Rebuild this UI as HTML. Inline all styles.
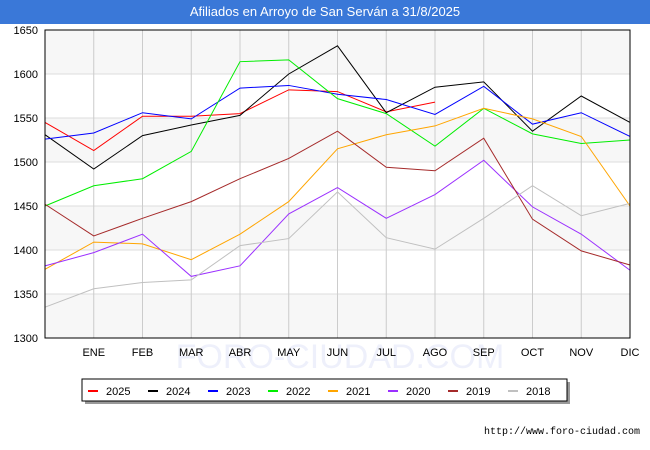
<!DOCTYPE html>
<html><head><meta charset="utf-8"><style>
body{margin:0;width:650px;height:450px;background:#fff;font-family:"Liberation Sans",sans-serif;overflow:hidden;position:relative}
#title{position:absolute;left:0;top:0;width:650px;height:24px;background:#3a78d8;color:#fff;font-size:13px;text-align:center;line-height:24px}
#url{position:absolute;right:10px;top:427px;font-size:10px;font-family:"Liberation Mono",monospace;color:#000}
</style></head><body>
<div id="title">Afiliados en Arroyo de San Serván a 31/8/2025</div>
<svg id="chart" width="650" height="450" style="position:absolute;left:0;top:0"></svg>
<div id="url">http://www.foro-ciudad.com</div>
<script>
const months=["","ENE","FEB","MAR","ABR","MAY","JUN","JUL","AGO","SEP","OCT","NOV","DIC"];
const yTicks=[1300,1350,1400,1450,1500,1550,1600,1650];
const seriesNames=["2025","2024","2023","2022","2021","2020","2019","2018"];
const seriesColors=["#ff0000","#000000","#0000ff","#00ee00","#ffa500","#9b30ff","#a52a2a","#c0c0c0"];
const s2025=[1545,1513,1552,1552,1555,1582,1580,1557,1568];
const s2024=[1531,1492,1530,1542,1553,1600,1632,1556,1585,1591,1535,1575,1545];
const s2023=[1526,1533,1556,1549,1584,1587,1577,1571,1554,1586,1543,1556,1529];
const s2022=[1450,1473,1481,1512,1614,1616,1572,1555,1518,1561,1532,1521,1525];
const s2021=[1378,1409,1407,1389,1418,1455,1515,1531,1541,1561,1549,1529,1450];
const s2020=[1382,1397,1418,1370,1382,1441,1471,1436,1463,1502,1449,1418,1377];
const s2019=[1452,1416,1436,1455,1481,1504,1535,1494,1490,1527,1435,1399,1383];
const s2018=[1335,1356,1363,1366,1405,1413,1466,1414,1401,1436,1473,1439,1453];
const allSeries=[s2025,s2024,s2023,s2022,s2021,s2020,s2019,s2018];
const L=45,R=630,T=30,B=338,ymin=1300,ymax=1650;
const xs=i=>L+i*(R-L)/12;
const ys=v=>B-(v-ymin)*(B-T)/(ymax-ymin);
const svg=document.getElementById('chart');const NS="http://www.w3.org/2000/svg";
function mk(t,a,p){const e=document.createElementNS(NS,t);for(const k in a)e.setAttribute(k,a[k]);(p||svg).appendChild(e);return e;}
for(let i=0;i<yTicks.length-1;i++){if(i%2==0){const r=mk('rect',{x:L,y:ys(yTicks[i+1]),width:R-L,height:ys(yTicks[i])-ys(yTicks[i+1]),fill:'#f7f7f7'});}}
const wm=mk('text',{x:340,y:368,'text-anchor':'middle','font-size':34,fill:'#eef0fb','font-family':'Liberation Sans'});wm.textContent='FORO-CIUDAD.COM';

yTicks.forEach(v=>{const l=mk('line',{x1:L,x2:R,y1:ys(v),y2:ys(v),stroke:'#ddd'});
const t=mk('text',{x:L-7,y:ys(v)+4,'text-anchor':'end','font-size':11,fill:'#000'});t.textContent=v;});
months.forEach((m,i)=>{if(i>0){const l=mk('line',{x1:xs(i),x2:xs(i),y1:T,y2:B,stroke:'#ccc'});}
const t=mk('text',{x:xs(i),y:356,'text-anchor':'middle','font-size':11,fill:'#000'});t.textContent=m;});
allSeries.forEach((s,k)=>{const p=mk('polyline',{points:s.map((v,i)=>xs(i)+','+ys(v)).join(' '),fill:'none',stroke:seriesColors[k],'stroke-width':1});
});
const fr=mk('rect',{x:L,y:T,width:R-L,height:B-T,fill:'none',stroke:'#000'});
const sh=mk('rect',{x:85,y:382,width:485,height:22,fill:'#999'});
const lg=mk('rect',{x:82,y:379,width:485,height:22,fill:'#fff',stroke:'#000'});
seriesNames.forEach((n,k)=>{const x0=88+k*60;const l=mk('line',{x1:x0,x2:x0+10,y1:391,y2:391,stroke:seriesColors[k],'stroke-width':2});

const t=mk('text',{x:x0+18,y:395,'font-size':11,fill:'#000'});t.textContent=n;});
</script>
</body></html>
